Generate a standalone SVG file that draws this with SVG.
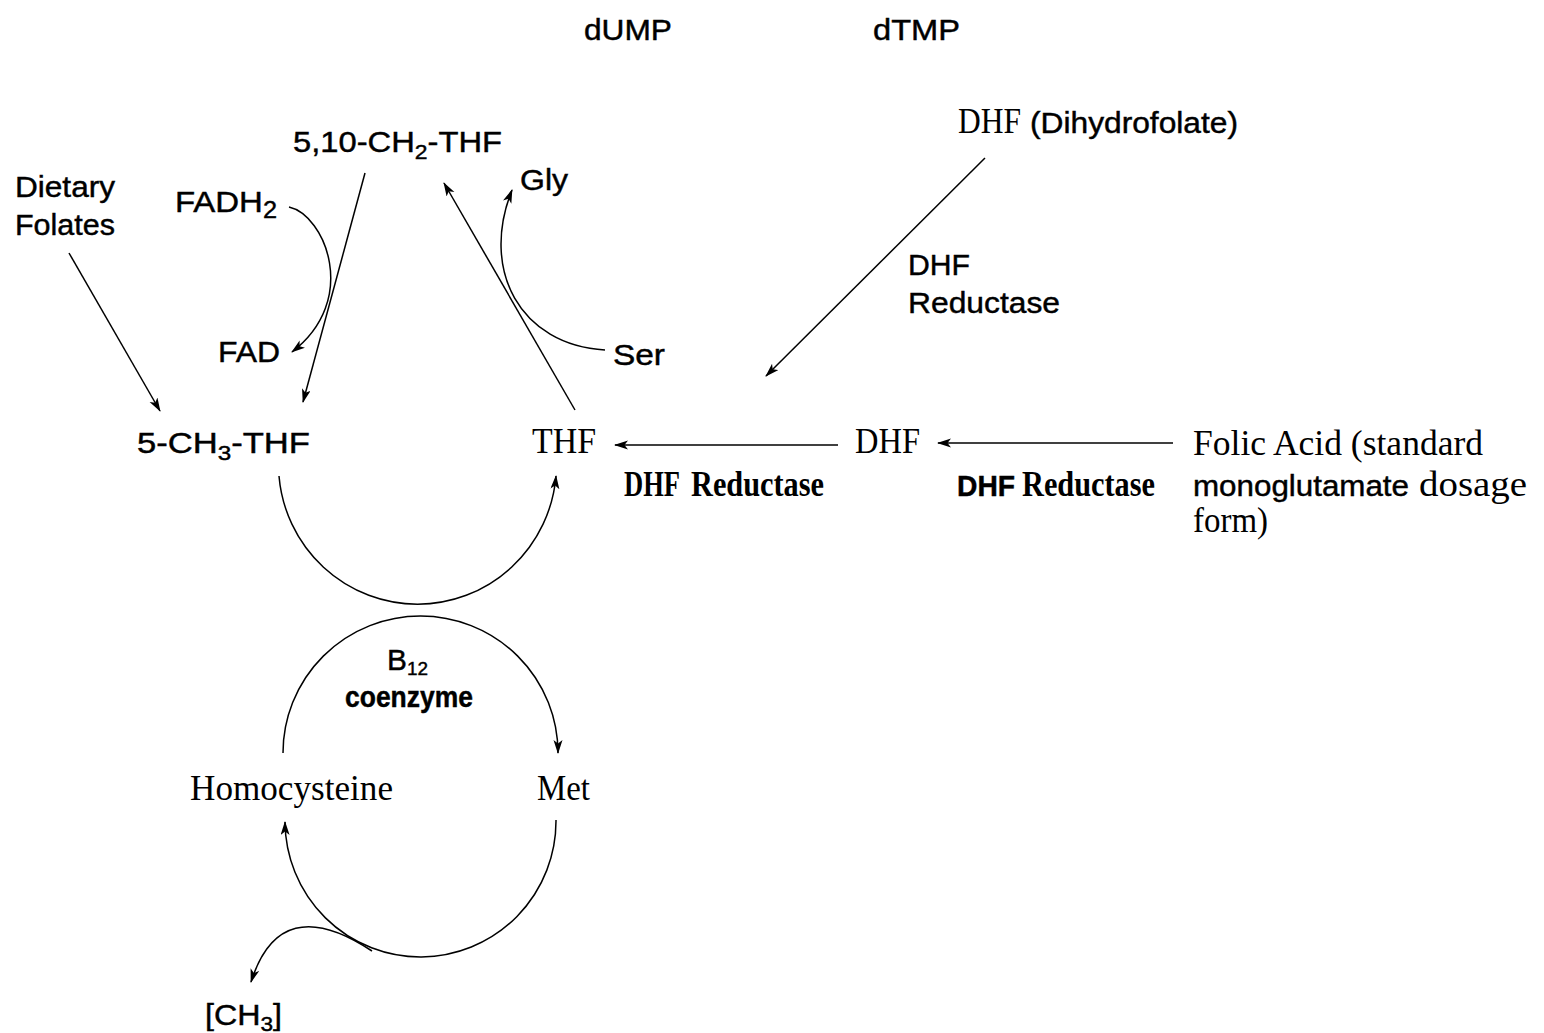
<svg xmlns="http://www.w3.org/2000/svg" width="1544" height="1033" viewBox="0 0 1544 1033">
<defs>
<marker id="ah" markerUnits="userSpaceOnUse" markerWidth="16" markerHeight="10" refX="13" refY="4.5" orient="auto">
<path d="M0,0 L14,4.5 L0,9 L3.5,4.5 z" fill="#000"/>
</marker>
<style>
.s{font-family:"Liberation Sans",Arial,Helvetica,sans-serif;font-size:30px;fill:#000;stroke:#000;stroke-width:0.45}
.r{font-family:"Liberation Serif","Times New Roman",serif;font-size:35px;fill:#000}
.b{font-weight:bold}
.ln{fill:none;stroke:#000;stroke-width:1.5}
</style>
</defs>
<rect width="1544" height="1033" fill="#fff"/>

<g id="connectors">
<path class="ln" d="M69,253 L160,411" marker-end="url(#ah)"/>
<path class="ln" d="M365,173 L303,402" marker-end="url(#ah)"/>
<path class="ln" d="M289,207 C325,215 360,300 292,352" marker-end="url(#ah)"/>
<path class="ln" d="M575,410 L444,183" marker-end="url(#ah)"/>
<path class="ln" d="M605,350 C520,345 480,270 512,190" marker-end="url(#ah)"/>
<path class="ln" d="M838,445 L615,445" marker-end="url(#ah)"/>
<path class="ln" d="M1173,443 L938,443" stroke-width="2.8" marker-end="url(#ah)"/>
<path class="ln" d="M985,158 L766,376" marker-end="url(#ah)"/>
<path class="ln" d="M279,476 A139,140 0 0 0 556,476" marker-end="url(#ah)"/>
<path class="ln" d="M283,753 A137.5,137 0 0 1 558,753" marker-end="url(#ah)"/>
<path class="ln" d="M556,820 A135.5,136 0 0 1 285,822" marker-end="url(#ah)"/>
<path class="ln" d="M372,951 Q280,890 251,982" marker-end="url(#ah)"/>
</g>

<g id="dUMP"><text class="s" x="584" y="40" textLength="88" lengthAdjust="spacingAndGlyphs">dUMP</text></g>
<g id="dTMP"><text class="s" x="873" y="40" textLength="87" lengthAdjust="spacingAndGlyphs">dTMP</text></g>
<g id="ch2thf"><text class="s" x="293" y="152" textLength="209" lengthAdjust="spacingAndGlyphs">5,10-CH<tspan dy="7" font-size="21">2</tspan><tspan dy="-7">-THF</tspan></text></g>
<g id="dietary"><text class="s" x="15" y="197" textLength="100" lengthAdjust="spacingAndGlyphs">Dietary</text><text class="s" x="15" y="235" textLength="100" lengthAdjust="spacingAndGlyphs">Folates</text></g>
<g id="fadh2"><text class="s" x="175" y="212" textLength="102" lengthAdjust="spacingAndGlyphs">FADH<tspan dy="6" font-size="23">2</tspan></text></g>
<g id="gly"><text class="s" x="520" y="190" textLength="48" lengthAdjust="spacingAndGlyphs">Gly</text></g>
<g id="fad"><text class="s" x="218" y="362" textLength="62" lengthAdjust="spacingAndGlyphs">FAD</text></g>
<g id="ser"><text class="s" x="613" y="365" textLength="52" lengthAdjust="spacingAndGlyphs">Ser</text></g>
<g id="ch3thf"><text class="s" x="137" y="453" textLength="173" lengthAdjust="spacingAndGlyphs">5-CH<tspan dy="7" font-size="21">3</tspan><tspan dy="-7">-THF</tspan></text></g>
<g id="thf"><text class="r" x="532" y="453" textLength="64" lengthAdjust="spacingAndGlyphs">THF</text></g>
<g id="dhf"><text class="r" x="855" y="453" textLength="65" lengthAdjust="spacingAndGlyphs">DHF</text></g>
<g id="folic">
<text class="r" x="1193" y="455" font-size="37" textLength="290" lengthAdjust="spacingAndGlyphs">Folic Acid (standard</text>
<text class="s" x="1193" y="496" font-size="29" textLength="216" lengthAdjust="spacingAndGlyphs">monoglutamate</text>
<text class="r" x="1419" y="496" font-size="37" textLength="108" lengthAdjust="spacingAndGlyphs">dosage</text>
<text class="r" x="1193" y="532" font-size="34" textLength="75" lengthAdjust="spacingAndGlyphs">form)</text>
</g>
<g id="dhfr1"><text class="r b" x="624" y="496" font-size="31" textLength="56" lengthAdjust="spacingAndGlyphs">DHF</text><text class="r b" x="691" y="496" font-size="32" textLength="133" lengthAdjust="spacingAndGlyphs">Reductase</text></g>
<g id="dhfr2"><text class="s b" x="957" y="496" font-size="28" textLength="58" lengthAdjust="spacingAndGlyphs">DHF</text><text class="r b" x="1022" y="496" font-size="32" textLength="133" lengthAdjust="spacingAndGlyphs">Reductase</text></g>
<g id="dhf-top"><text class="r" x="958" y="133" font-size="32" textLength="63" lengthAdjust="spacingAndGlyphs">DHF</text><text class="s" x="1030" y="133" textLength="208" lengthAdjust="spacingAndGlyphs">(Dihydrofolate)</text></g>
<g id="dhfr3"><text class="s" x="908" y="275" textLength="62" lengthAdjust="spacingAndGlyphs">DHF</text><text class="s" x="908" y="313" textLength="152" lengthAdjust="spacingAndGlyphs">Reductase</text></g>
<g id="b12"><text class="s" x="387" y="670" font-size="27" textLength="41" lengthAdjust="spacingAndGlyphs">B<tspan dy="5" font-size="19">12</tspan></text><text class="s b" x="345" y="707" font-size="26" textLength="128" lengthAdjust="spacingAndGlyphs">coenzyme</text></g>
<g id="homocysteine"><text class="r" x="190" y="800" font-size="37" textLength="203" lengthAdjust="spacingAndGlyphs">Homocysteine</text></g>
<g id="met"><text class="r" x="537" y="800" font-size="37" textLength="53" lengthAdjust="spacingAndGlyphs">Met</text></g>
<g id="ch3"><text class="s" x="205" y="1025" textLength="77" lengthAdjust="spacingAndGlyphs">[CH<tspan dy="6" font-size="21">3</tspan><tspan dy="-6">]</tspan></text></g>
</svg>
